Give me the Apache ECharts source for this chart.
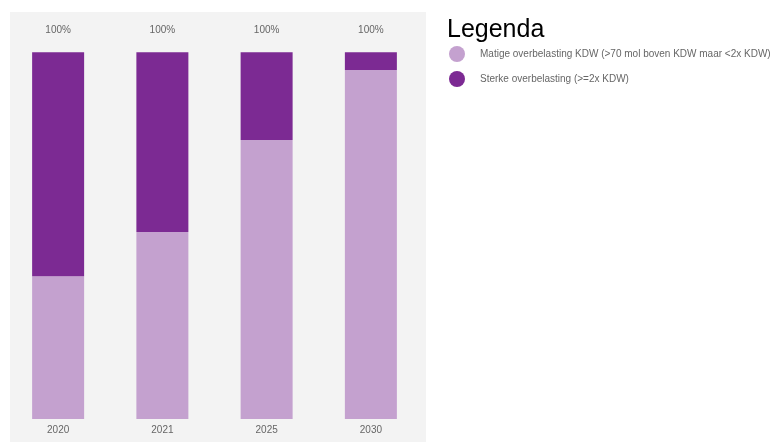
<!DOCTYPE html>
<html>
<head>
<meta charset="utf-8">
<script src="https://cdn.jsdelivr.net/npm/echarts@6/dist/echarts.min.js"></script>
<style>
  html, body { margin: 0; padding: 0; background: #fff; }
  #chart { width: 777px; height: 442px; }
</style>
</head>
<body>
<div id="chart"></div>
<script>
// jaren en aandelen (%) per klasse
const years = ['2020', '2021', '2025', '2030'];
const matig = [38.9, 51.0, 76.1, 95.2];
const sterk = [61.1, 49.0, 23.9, 4.8];
const seriesNames = ['Matige overbelasting KDW (>70 mol boven KDW maar <2x KDW)', 'Sterke overbelasting (>=2x KDW)'];

const totals = years.map((y, i) => matig[i] + sterk[i]);
const chart = echarts.init(document.getElementById('chart'));

chart.setOption({
  animation: false,
  textStyle: { fontFamily: 'Liberation Sans, Arial, sans-serif' },
  graphic: [
    // grijs vlak achter de staven
    { type: 'rect', z: -10, shape: { x: 10, y: 12, width: 416, height: 430 }, style: { fill: '#f3f3f3' } }
  ],
  title: {
    text: 'Legenda',
    left: 442, top: 13,
    textStyle: { fontSize: 25, fontWeight: 'normal', color: '#000', fontFamily: 'Liberation Sans, Arial, sans-serif' }
  },
  legend: {
    orient: 'vertical',
    left: 444, top: 41,
    icon: 'circle',
    itemWidth: 16, itemHeight: 16, itemGap: 9,
    data: seriesNames,
    textStyle: { fontSize: 10, color: '#666', padding: [0, 0, 0, 10] }
  },
  grid: { left: 6, width: 417, top: 52.3, height: 366.7 },
  xAxis: {
    type: 'category',
    data: years,
    axisLine: { show: false },
    axisTick: { show: false },
    axisLabel: { color: '#666', fontSize: 10, margin: 6 }
  },
  yAxis: { type: 'value', min: 0, max: 100, show: false, splitLine: { show: false } },
  series: [
    {
      name: seriesNames[0], type: 'bar', stack: 'a', barWidth: 52,
      itemStyle: { color: '#c4a1cf' },
      data: matig
    },
    {
      name: seriesNames[1], type: 'bar', stack: 'a', barWidth: 52,
      itemStyle: { color: '#7c2a93' },
      data: sterk,
      label: {
        show: true, position: 'top', distance: 17,
        color: '#666', fontSize: 10,
        formatter: p => Math.round(totals[p.dataIndex]) + '%'
      }
    }
  ]
});
</script>
</body>
</html>
